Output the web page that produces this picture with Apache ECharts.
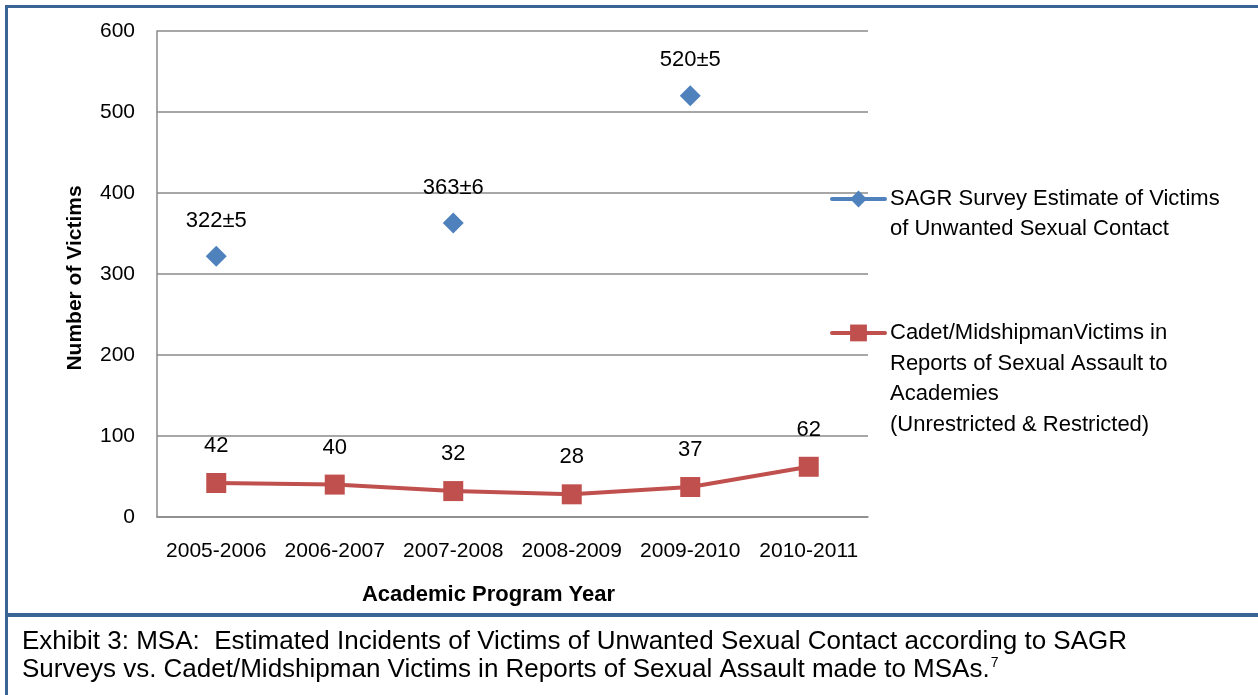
<!DOCTYPE html>
<html>
<head>
<meta charset="utf-8">
<script src="https://cdn.jsdelivr.net/npm/echarts@6/dist/echarts.min.js"></script>
<style>
html,body{margin:0;padding:0;background:#fff;}
#chart{width:1258px;height:695px;}
</style>
</head>
<body>
<div id="chart"></div>
<script>
const categories = ['2005-2006','2006-2007','2007-2008','2008-2009','2009-2010','2010-2011'];
const sagrValues = [322, null, 363, null, 520, null];
const sagrLabels = ['322±5', '', '363±6', '', '520±5', ''];
const reportValues = [42, 40, 32, 28, 37, 62];
const yTicks = [0, 100, 200, 300, 400, 500, 600];
const sagrName = 'SAGR Survey Estimate of Victims\nof Unwanted Sexual Contact';
const reportName = 'Cadet/MidshipmanVictims in\nReports of Sexual Assault to\nAcademies\n(Unrestricted & Restricted)';
const captionLine1 = 'Exhibit 3: MSA:  Estimated Incidents of Victims of Unwanted Sexual Contact according to SAGR';
const captionLine2 = 'Surveys vs. Cadet/Midshipman Victims in Reports of Sexual Assault made to MSAs.';

const FONT = '"Liberation Sans", Arial, sans-serif';
const frameColor = '#3B6496';
const gridColor = '#8A8A8A';

const chart = echarts.init(document.getElementById('chart'), null, {renderer: 'canvas'});
chart.setOption({
  animation: false,
  backgroundColor: '#fff',
  textStyle: {fontFamily: FONT},
  title: {
    left: 17, top: 623,
    text: '{t|' + captionLine1 + '}\n{t|' + captionLine2 + '}{s|7}',
    textStyle: {
      fontWeight: 'normal',
      rich: {
        t: {fontFamily: FONT, fontSize: 26, fontWeight: 'normal', color: '#000', lineHeight: 28},
        s: {fontFamily: FONT, fontSize: 14, fontWeight: 'normal', color: '#000', verticalAlign: 'top', lineHeight: 28, padding: [0,0,16,1]}
      }
    }
  },
  grid: {left: 157, right: 390, top: 31, bottom: 178},
  legend: [
    {
      data: [sagrName],
      orient: 'vertical',
      left: 825, top: 149,
      itemWidth: 53, itemHeight: 21,
      lineStyle: {width: 4, cap: 'round'},
      formatter: n => '\n' + n,
      textStyle: {fontFamily: FONT, fontSize: 22, color: '#000', lineHeight: 30},
      selectedMode: false
    },
    {
      data: [reportName],
      orient: 'vertical',
      left: 825, top: 220.5,
      itemWidth: 53, itemHeight: 21,
      lineStyle: {width: 4, cap: 'round'},
      formatter: n => '\n\n\n' + n,
      textStyle: {fontFamily: FONT, fontSize: 22, color: '#000', lineHeight: 30.7},
      selectedMode: false
    }
  ],
  xAxis: {
    type: 'category',
    data: categories,
    boundaryGap: true,
    name: 'Academic Program Year',
    nameLocation: 'middle',
    nameGap: 67,
    nameTextStyle: {fontFamily: FONT, fontSize: 22, fontWeight: 'bold', color: '#000', padding: [0, 48, 0, 0]},
    axisLine: {show: true, lineStyle: {color: gridColor, width: 1.5}},
    axisTick: {show: false},
    axisLabel: {fontFamily: FONT, fontSize: 21, color: '#000', margin: 24, interval: 0}
  },
  yAxis: {
    type: 'value',
    min: yTicks[0], max: yTicks[yTicks.length - 1], interval: 100,
    name: 'Number of Victims',
    nameLocation: 'middle',
    nameGap: 71,
    nameRotate: 90,
    nameTextStyle: {fontFamily: FONT, fontSize: 21, fontWeight: 'bold', color: '#000', padding: [0, 8, 0, 0]},
    axisLine: {show: true, lineStyle: {color: gridColor, width: 1.5}},
    axisTick: {show: false},
    axisLabel: {fontFamily: FONT, fontSize: 21, color: '#000', margin: 22},
    splitLine: {show: true, lineStyle: {color: gridColor, width: 1.5}}
  },
  series: [
    {
      name: sagrName,
      type: 'line',
      data: sagrValues,
      connectNulls: false,
      symbol: 'diamond',
      symbolSize: 21,
      itemStyle: {color: '#4F81BD'},
      lineStyle: {color: '#4F81BD', width: 4},
      label: {
        show: true, position: 'top', distance: 14,
        fontFamily: FONT, fontSize: 22, color: '#000',
        formatter: p => sagrLabels[p.dataIndex]
      }
    },
    {
      name: reportName,
      type: 'line',
      data: reportValues,
      symbol: 'rect',
      symbolSize: 20,
      itemStyle: {color: '#C0504D'},
      lineStyle: {color: '#C0504D', width: 4},
      label: {
        show: true, position: 'top', distance: 16,
        fontFamily: FONT, fontSize: 22, color: '#000'
      }
    }
  ],
  graphic: [
    {type: 'rect', shape: {x: 5, y: 5, width: 1253, height: 3}, style: {fill: frameColor}, silent: true},
    {type: 'rect', shape: {x: 5, y: 5, width: 3, height: 690}, style: {fill: frameColor}, silent: true},
    {type: 'rect', shape: {x: 5, y: 613, width: 1253, height: 4}, style: {fill: frameColor}, silent: true}
  ]
});
</script>
</body>
</html>
